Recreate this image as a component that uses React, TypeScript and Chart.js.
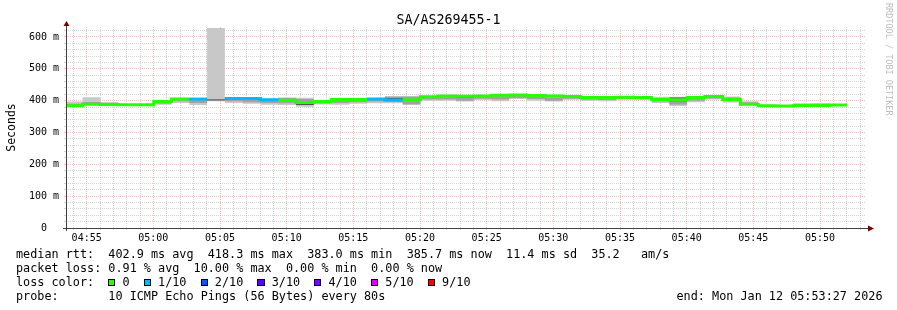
import React, { useEffect, useRef } from "react";
import { Chart, registerables } from "chart.js";

Chart.register(...registerables);

// ---------- chart data ----------
const chartTitle = "SA/AS269455-1";
const yAxisTitle = "Seconds";
const creditText = "RRDTOOL / TOBI OETIKER";
const graphStart = "04:53:27";
const graphEnd = "05:53:27";
const firstProbe = "04:53:22";
const probeSeconds = 80;
const yMax = 631.4;
const yMinorStep = 20;
const yTickValues = [0, 100, 200, 300, 400, 500, 600];
const yTickLabels = ["0  ", "100 m", "200 m", "300 m", "400 m", "500 m", "600 m"];

// median rtt (ms) per probe round; null = no median drawn
const medianRtt: (number | null)[] = [
  384, 389, 388, 387, 387, 397, 405, 405, null, 407, 407, 403, 401, 394, 397, 404, 404, 405, 402, 403, 412, 415,
  414, 415, 417, 418, 416, 415, 413, 410, 410, 411, 410, 404, 403, 410, 413, 404, 389, 384, 383, 385, 385, 386,
];
// lost pings (out of 10) per probe round
const lossCount = [
  0, 0, 0, 0, 0, 0, 0, 1, 0, 1, 1, 1, 0, 0, 0, 0, 0, 1, 1, 0, 0, 0,
  0, 0, 0, 0, 0, 0, 0, 0, 0, 0, 0, 0, 0, 0, 0, 0, 0, 0, 0, 0, 0, 0,
];
// smoke: outer (all pings)
const smokeMin = [
  381, 387, 386, 385, 385, 387, 393, 386, 398, 393, 390, 387, 386, 381, 388, 387, 390, 392, 392, 386, 400, 400,
  397, 402, 398, 405, 400, 397, 403, 400, 398, 403, 402, 393, 383, 395, 404, 394, 386, 382, 381, 383, 383, 384,
];
const smokeMax = [
  397, 411, 396, 389, 389, 400, 407, 408, 628, 410, 410, 406, 410, 409, 402, 406, 406, 408, 415, 415, 414, 417,
  416, 417, 419, 419, 418, 417, 414, 412, 412, 413, 412, 412, 412, 413, 416, 413, 398, 387, 385, 392, 393, 388,
];
// smoke: middle layer
const smokeMidLow = [
  383, 388, 387, 386, 386, 390, 398, 393, 399, 398, 395, 393, 392, 386, 391, 393, 395, 397, 396, 389, 404, 404,
  400, 406, 404, 408, 405, 400, 406, 403, 402, 405, 405, 397, 388, 400, 407, 398, 387, 383, 382, 384, 384, 385,
];
const smokeMidHigh = [
  390, 396, 391, 388, 388, 397, 405, 404, 405, 406, 405, 402, 408, 405, 399, 403, 403, 404, 412, 412, 411, 413,
  410, 413, 414, 416, 413, 410, 411, 408, 408, 409, 409, 408, 408, 408, 412, 410, 394, 386, 384, 388, 389, 387,
];
// smoke: inner (darkest) layer
const smokeCoreLow = [
  383, 388, 387, 386, 386, 396, 403, 404, 401, 406, 406, 402, 399, 386, 396, 400, 403, 404, 401, 402, 411, 414,
  409, 414, 416, 417, 415, 413, 412, 405, 409, 410, 409, 403, 398, 409, 412, 399, 386, 383, 382, 384, 384, 385,
];
const smokeCoreHigh = [
  385, 390, 389, 388, 388, 398, 407, 406, 404, 408, 408, 404, 404, 396, 398, 406, 405, 406, 408, 405, 413, 416,
  415, 416, 418, 419, 417, 416, 414, 411, 411, 412, 411, 406, 410, 411, 414, 405, 390, 385, 384, 386, 386, 387,
];

const lossLevels = [0, 1, 2, 3, 4, 5, 9];
const lossLabels = ["0", "1/10", "2/10", "3/10", "4/10", "5/10", "9/10"];
const lossColors = ["#26ff00", "#00b8ff", "#0059ff", "#5e00ff", "#7e00ff", "#dd00ff", "#ff0000"];

const statsMedian = "median rtt:  402.9 ms avg  418.3 ms max  383.0 ms min  385.7 ms now  11.4 ms sd  35.2   am/s";
const statsLoss = "packet loss: 0.91 % avg  10.00 % max  0.00 % min  0.00 % now";
const lossColorTitle = "loss color:  ";
const probeText = "probe:       10 ICMP Echo Pings (56 Bytes) every 80s";
const endText = "end: Mon Jan 12 05:53:27 2026";

// ---------- helpers ----------
const MONO = "'DejaVu Sans Mono', monospace";
const toSec = (s: string) => {
  const [h, m, x] = s.split(":").map(Number);
  return h * 3600 + m * 60 + x;
};
const hhmm = (v: number) => {
  const h = Math.floor(v / 3600);
  const m = Math.floor((v % 3600) / 60);
  return String(h).padStart(2, "0") + ":" + String(m).padStart(2, "0");
};
const lossColor = (n: number) => {
  let c = lossColors[0];
  lossLevels.forEach((l, i) => {
    if (n >= l) c = lossColors[i];
  });
  return c;
};

const GRID_MINOR = "rgba(150,150,150,0.42)";
const GRID_MAJOR = "rgba(255,90,90,0.42)";

const axisPlugin = {
  id: "rrdAxes",
  afterDraw(chart: any) {
    const { ctx, chartArea: a } = chart;
    ctx.save();
    ctx.strokeStyle = "#404040";
    ctx.lineWidth = 1;
    ctx.beginPath();
    ctx.moveTo(a.left - 3, a.bottom + 0.5);
    ctx.lineTo(a.right + 3, a.bottom + 0.5);
    ctx.stroke();
    ctx.beginPath();
    ctx.moveTo(a.left + 0.5, a.bottom + 3);
    ctx.lineTo(a.left + 0.5, a.top - 2);
    ctx.stroke();
    ctx.fillStyle = "#7a0000";
    ctx.beginPath();
    ctx.moveTo(a.right + 2, a.bottom - 2.5);
    ctx.lineTo(a.right + 8, a.bottom + 0.5);
    ctx.lineTo(a.right + 2, a.bottom + 3.5);
    ctx.closePath();
    ctx.fill();
    ctx.beginPath();
    ctx.moveTo(a.left - 2.5, a.top - 1);
    ctx.lineTo(a.left + 0.5, a.top - 6);
    ctx.lineTo(a.left + 3.5, a.top - 1);
    ctx.closePath();
    ctx.fill();
    ctx.restore();
  },
};

export default function App() {
  const ref = useRef<HTMLCanvasElement>(null);

  useEffect(() => {
    const t0 = toSec(firstProbe);
    const tStart = toSec(graphStart);
    const tEnd = toSec(graphEnd);
    const n = medianRtt.length;

    const stepPoints = (arr: (number | null)[]) => {
      const pts = arr.map((v, i) => ({ x: t0 + i * probeSeconds, y: v }));
      pts.push({ x: t0 + n * probeSeconds, y: arr[n - 1] });
      return pts;
    };

    const medPts: { x: number; y: number | null }[] = [];
    const medLoss: number[] = [];
    medianRtt.forEach((v, i) => {
      const x = t0 + i * probeSeconds;
      if (v == null) {
        const prev = i > 0 ? medianRtt[i - 1] : null;
        if (prev != null) {
          medPts.push({ x, y: prev });
          medLoss.push(lossCount[i - 1]);
        }
        medPts.push({ x, y: null });
        medLoss.push(0);
      } else {
        medPts.push({ x, y: v });
        medLoss.push(lossCount[i]);
      }
    });
    medPts.push({ x: t0 + n * probeSeconds, y: medianRtt[n - 1] });
    medLoss.push(lossCount[n - 1]);

    const band = (arr: number[], fill: any, color: string) => ({
      data: stepPoints(arr),
      stepped: "before" as const,
      borderWidth: 0,
      borderColor: "rgba(0,0,0,0)",
      backgroundColor: color,
      fill,
      pointRadius: 0,
      clip: { left: -1, top: 0, right: 0, bottom: 0 },
    });

    const xTicks: number[] = [];
    for (let v = Math.ceil(tStart / 60) * 60; v <= tEnd; v += 60) xTicks.push(v);
    const yTicks: number[] = [];
    for (let v = 0; v <= yMax; v += yMinorStep) yTicks.push(v);

    const chart = new Chart(ref.current as HTMLCanvasElement, {
      type: "line",
      data: {
        datasets: [
          {
            data: medPts,
            stepped: "before",
            borderWidth: 3,
            borderColor: lossColor(0),
            fill: false,
            pointRadius: 0,
            spanGaps: false,
            clip: { left: -1, top: 0, right: 0, bottom: 0 },
            segment: {
              borderColor: (c: any) => lossColor(medLoss[c.p0DataIndex]),
            },
          } as any,
          band(smokeCoreLow, false, "rgba(0,0,0,0)"),
          band(smokeCoreHigh, "-1", "#555555"),
          band(smokeMidLow, false, "rgba(0,0,0,0)"),
          band(smokeMidHigh, "-1", "#a2a2a2"),
          band(smokeMin, false, "rgba(0,0,0,0)"),
          band(smokeMax, "-1", "#c8c8c8"),
        ],
      },
      options: {
        animation: false,
        responsive: false,
        devicePixelRatio: 1,
        layout: { padding: { top: 27, right: 31, left: 0, bottom: 0 } },
        elements: { point: { radius: 0 }, line: { tension: 0 } },
        plugins: {
          legend: { display: false },
          tooltip: { enabled: false },
          title: { display: false },
        },
        scales: {
          x: {
            type: "linear",
            min: tStart,
            max: tEnd,
            afterFit: (s: any) => {
              s.height = 82;
            },
            afterBuildTicks: (s: any) => {
              s.ticks = xTicks.map((v) => ({ value: v }));
            },
            ticks: {
              autoSkip: false,
              maxRotation: 0,
              minRotation: 0,
              padding: 2,
              color: "#000",
              font: { family: MONO, size: 10 },
              callback: (v: any) => (Number(v) % 300 === 0 ? hhmm(Number(v)) : ""),
            },
            grid: {
              color: (c: any) => (c.tick && c.tick.value % 300 === 0 ? GRID_MAJOR : GRID_MINOR),
              tickColor: (c: any) => (c.tick && c.tick.value % 300 === 0 ? GRID_MAJOR : GRID_MINOR),
              lineWidth: 1,
              drawTicks: true,
              tickLength: 2,
            },
            border: { display: false, dash: [1, 1] },
          },
          y: {
            type: "linear",
            min: 0,
            max: yMax,
            afterFit: (s: any) => {
              s.width = 66;
            },
            afterBuildTicks: (s: any) => {
              s.ticks = yTicks.map((v) => ({ value: v }));
            },
            ticks: {
              autoSkip: false,
              padding: 5,
              color: "#000",
              font: { family: MONO, size: 10 },
              callback: (v: any) => {
                const i = yTickValues.indexOf(Number(v));
                return i >= 0 ? yTickLabels[i] : "";
              },
            },
            grid: {
              color: (c: any) => (c.tick && c.tick.value % 100 === 0 ? GRID_MAJOR : GRID_MINOR),
              tickColor: (c: any) => (c.tick && c.tick.value % 100 === 0 ? GRID_MAJOR : GRID_MINOR),
              lineWidth: 1,
              drawTicks: true,
              tickLength: 2,
            },
            border: { display: false, dash: [1, 1] },
            title: {
              display: true,
              text: yAxisTitle,
              color: "#000",
              font: { family: MONO, size: 11.5 },
              padding: { top: 5, bottom: 0 },
            },
          },
        },
      } as any,
      plugins: [axisPlugin],
    });
    return () => chart.destroy();
  }, []);

  const lossItems = lossLabels.map((lab, i) => (
    <React.Fragment key={lab}>
      <span
        style={{
          display: "inline-block",
          width: "calc(1ch - 2px)",
          height: 5,
          border: "1px solid #000",
          background: lossColors[i],
        }}
      />
      {" " + lab + (i < lossLabels.length - 1 ? "  " : "")}
    </React.Fragment>
  ));

  return (
    <div
      style={{
        position: "fixed",
        left: 0,
        top: 0,
        width: 897,
        height: 310,
        background: "#fff",
        overflow: "hidden",
      }}
    >
      <canvas ref={ref} width={897} height={310} style={{ position: "absolute", left: 0, top: 0, display: "block" }} />
      <div
        style={{
          position: "absolute",
          left: 0,
          top: 12.5,
          width: 897,
          textAlign: "center",
          fontFamily: MONO,
          fontSize: "13.3px",
          lineHeight: "13.3px",
          color: "#000",
          whiteSpace: "pre",
        }}
      >
        {chartTitle}
      </div>
      <div
        style={{
          position: "absolute",
          left: 882.5,
          top: 3,
          width: 11,
          writingMode: "vertical-rl",
          fontFamily: MONO,
          fontSize: "8.5px",
          lineHeight: "11px",
          color: "#bdbdbd",
          whiteSpace: "nowrap",
        }}
      >
        {creditText}
      </div>
      <div
        style={{
          position: "absolute",
          left: 16,
          top: 247,
          fontFamily: MONO,
          fontSize: "11.8px",
          lineHeight: "14px",
          color: "#000",
          whiteSpace: "pre",
        }}
      >
        <div>{statsMedian}</div>
        <div>{statsLoss}</div>
        <div>
          {lossColorTitle}
          {lossItems}
        </div>
        <div>{probeText.padEnd(93, " ") + endText}</div>
      </div>
    </div>
  );
}
